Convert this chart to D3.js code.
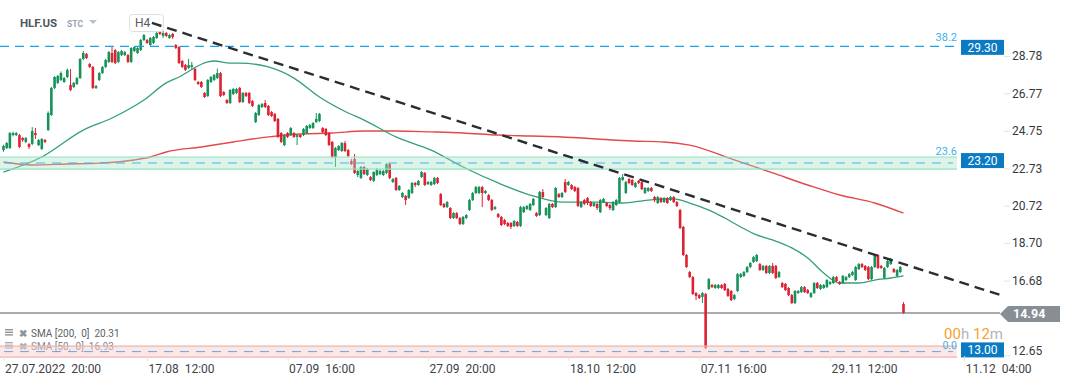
<!DOCTYPE html>
<html><head><meta charset="utf-8">
<script src="https://cdn.jsdelivr.net/npm/d3@7"></script>
<style>
body{margin:0;background:#fff;}
svg{display:block;font-family:Roboto,"Noto Sans",sans-serif;}
</style>
</head><body>
<svg id="c" width="1072" height="382"></svg>
<script>
// ---------- DATA ----------
const opens = [
23.71,23.82,23.82,24.52,24.52,24.52,24.36,24.15,24.04,24.04,
24.63,23.98,23.77,24.25,24.79,25.60,27.06,27.33,27.49,27.38,
27.65,27.22,27.11,27.27,27.59,28.62,28.89,28.35,28.19,27.06,
27.49,27.86,28.19,28.46,28.94,29.10,28.46,28.83,28.83,28.83,
28.46,29.05,28.94,29.10,29.64,29.64,29.37,29.48,29.75,30.07,
29.86,30.02,29.75,29.97,29.37,29.26,28.51,28.29,28.13,28.19,
28.08,27.38,27.38,26.79,26.62,27.38,27.49,27.59,27.86,26.84,
26.41,26.25,26.73,26.79,27.06,26.30,26.79,26.79,26.35,25.22,
25.60,26.03,26.25,26.09,25.76,25.66,25.39,24.63,23.98,24.63,
24.52,24.63,24.42,24.52,24.52,24.63,24.90,24.90,25.22,25.28,
24.90,24.85,24.63,24.15,23.34,23.71,23.66,24.09,23.71,23.12,
23.23,22.37,22.21,22.80,22.37,22.26,22.05,22.37,22.42,22.37,
22.48,22.96,21.99,22.21,21.56,21.18,21.24,21.13,21.40,21.94,
21.83,22.26,22.48,21.88,21.83,21.88,22.21,21.34,20.81,20.64,
20.59,20.05,20.32,20.05,19.73,20.05,20.48,21.02,21.40,21.40,
21.72,21.40,21.29,21.02,20.54,20.27,20.11,19.94,19.78,19.78,
19.62,19.84,19.62,20.37,20.54,20.48,20.75,20.32,20.21,21.45,
20.21,20.05,20.81,20.64,21.34,21.18,21.99,21.83,21.83,21.72,21.67,
20.64,21.02,21.13,20.91,20.70,20.81,20.37,20.91,20.86,20.75,20.48,
20.75,20.91,22.10,21.40,22.15,22.10,21.72,22.05,21.99,21.40,
21.51,21.67,21.18,20.86,21.13,20.91,21.13,21.02,21.18,20.91,20.48,
19.57,18.06,17.14,16.87,16.01,15.90,15.80,15.96,16.23,
16.44,16.28,16.28,16.44,16.50,16.23,16.12,15.69,16.12,
16.87,16.93,17.14,17.41,17.68,17.73,17.57,17.25,17.47,17.09,
17.47,17.47,16.87,16.55,16.50,16.28,15.90,15.47,16.01,16.06,
16.33,16.17,
15.80,16.01,16.55,16.23,16.28,16.33,16.50,
16.55,16.87,16.60,16.55,16.71,16.87,16.98,16.71,17.30,17.57,
17.47,17.41,16.76,17.41,18.06,17.47,16.82,17.41,17.57,17.30,
16.93,17.14,15.42];
const highs = [
24.00,24.15,24.68,24.70,24.68,24.58,24.42,24.42,24.09,24.95,
24.90,24.31,24.36,24.31,25.80,27.11,27.70,27.76,27.95,27.65,
28.10,28.08,27.38,27.65,28.67,29.05,28.94,28.40,28.24,27.22,
27.92,28.24,28.62,29.05,29.26,29.15,29.05,29.10,29.05,28.89,
29.26,29.32,29.26,29.70,29.97,29.70,29.80,29.86,30.07,30.15,
30.13,30.07,29.97,30.02,29.43,29.32,28.56,28.35,28.62,28.46,
28.13,27.43,27.43,26.84,27.54,27.70,27.81,28.10,27.92,26.89,
26.46,27.00,27.06,27.06,27.11,26.84,26.84,26.84,26.41,25.76,
26.19,26.25,26.41,26.14,25.82,25.71,25.44,24.68,24.58,24.68,
24.95,24.68,24.58,24.58,24.90,25.06,25.12,25.22,25.71,25.71,
24.95,24.90,24.68,24.20,23.88,23.98,24.15,24.20,23.77,23.23,
23.50,22.64,22.85,22.85,22.75,22.31,22.58,22.75,22.69,22.64,
23.01,23.01,22.21,22.26,21.83,21.45,21.29,21.61,21.99,21.99,
22.10,22.58,22.53,22.05,22.05,22.26,22.26,21.40,20.86,20.97,
20.64,20.37,20.37,20.11,20.16,20.27,21.08,21.45,21.78,21.78,
21.78,21.56,21.34,21.08,20.70,20.32,20.16,20.00,19.84,19.84,
19.94,19.89,20.70,20.70,20.75,20.86,21.13,20.37,21.51,21.61,
20.64,20.86,20.86,21.72,21.40,21.45,22.15,22.05,21.88,21.78,21.72,
20.97,21.08,21.18,20.97,20.91,20.86,21.08,21.13,20.91,20.81,20.97,
21.08,22.26,22.42,22.05,22.21,22.15,21.99,22.10,22.05,21.72,
21.72,21.72,21.24,21.24,21.18,21.18,21.18,21.24,21.24,20.97,20.54,
19.62,18.11,17.20,16.93,16.06,15.96,16.06,16.01,16.82,
16.50,16.50,16.50,16.50,16.55,16.28,16.17,15.96,17.09,
17.09,17.20,17.47,17.68,18.00,18.11,17.63,17.52,17.52,17.52,
17.63,17.52,17.20,16.60,16.55,16.33,15.96,16.17,16.17,16.39,
16.39,16.23,
16.06,16.60,16.60,16.50,16.50,16.76,16.66,
16.93,16.93,16.66,16.98,16.93,17.09,17.20,17.47,17.63,17.63,
17.52,17.47,17.47,18.11,18.11,17.52,17.41,17.79,17.90,17.36,
17.30,17.47,15.52];
const lows = [
23.62,23.77,23.77,24.45,24.47,23.82,24.15,24.09,23.77,23.98,
24.31,23.93,23.71,24.09,24.74,25.55,27.00,27.27,27.43,27.33,
27.59,26.89,27.06,27.22,27.54,28.56,28.62,28.13,27.00,27.00,
27.43,27.81,28.13,28.40,28.40,28.35,28.40,28.78,28.78,28.40,
28.40,29.00,28.89,29.05,29.58,29.43,29.32,29.43,29.70,29.91,
29.75,29.80,29.70,29.70,29.15,28.35,28.13,27.97,28.08,28.08,
27.43,27.22,27.06,26.52,26.57,27.33,27.43,27.54,26.57,26.62,
26.19,26.19,26.68,26.73,26.25,26.25,26.57,26.19,26.03,25.17,
25.55,25.98,25.98,25.55,25.49,25.22,24.36,24.09,23.93,24.36,
24.47,24.36,23.98,24.36,24.47,24.58,24.85,24.85,25.17,25.22,
24.63,24.47,23.93,23.28,22.80,23.66,23.61,23.61,23.34,22.90,
22.42,22.26,22.15,22.37,22.31,22.05,21.99,22.31,22.37,22.31,
22.42,22.15,21.94,21.51,21.51,21.13,20.75,21.08,21.34,21.72,
21.78,22.21,21.78,21.83,21.78,21.83,21.88,20.70,20.59,20.59,
20.00,20.00,20.00,19.67,19.67,20.00,20.43,20.97,21.34,21.34,
20.64,21.34,20.97,20.43,20.48,20.05,19.62,19.67,19.57,19.46,
19.57,19.57,19.57,20.32,20.48,20.43,20.70,20.11,20.16,21.13,
20.16,20.00,20.59,20.59,21.13,21.13,21.40,21.78,21.56,21.45,20.64,
20.59,20.75,20.75,20.64,20.64,20.48,20.32,20.86,20.64,20.48,20.43,
20.70,20.86,22.05,21.34,21.88,21.78,21.67,21.88,21.56,21.34,
21.45,21.45,20.91,20.81,20.86,20.86,20.81,20.97,20.86,20.64,19.46,
18.00,17.36,16.82,15.90,15.63,15.69,15.47,13.00,16.17,
16.28,16.23,16.23,16.23,16.12,15.80,15.58,15.63,16.06,
16.82,16.87,17.09,17.36,17.63,17.68,17.20,17.20,17.03,17.03,
17.03,16.76,16.82,16.28,16.12,15.85,15.42,15.42,15.96,16.01,
16.01,15.96,
15.74,15.96,16.23,16.17,16.23,16.28,16.44,
16.50,16.60,16.44,16.50,16.66,16.82,16.93,16.66,17.25,17.36,
17.20,16.71,16.71,17.36,17.30,17.30,16.76,17.36,17.52,17.09,
16.87,17.09,14.90];
const closes = [
23.93,24.09,24.63,24.63,24.63,23.88,24.25,24.36,23.88,24.74,
24.52,24.25,24.31,24.15,25.71,27.06,27.65,27.70,27.86,27.59,
28.03,26.95,27.33,27.59,28.62,28.94,28.67,28.19,27.06,27.16,
27.86,28.19,28.56,28.99,28.46,28.40,28.99,29.05,28.99,28.46,
29.21,29.26,29.21,29.64,29.91,29.48,29.75,29.80,30.02,29.97,
30.02,29.86,29.91,29.80,29.21,28.40,28.19,28.03,28.29,28.29,
27.49,27.27,27.11,26.57,27.49,27.65,27.76,27.86,26.62,26.68,
26.25,26.95,27.00,27.00,26.30,26.79,26.62,26.25,26.09,25.71,
26.14,26.19,26.03,25.60,25.55,25.28,24.42,24.15,24.52,24.42,
24.90,24.42,24.52,24.42,24.85,25.01,25.06,25.17,25.39,25.66,
24.68,24.52,23.98,23.34,23.82,23.93,24.09,23.66,23.39,22.96,
22.48,22.58,22.80,22.42,22.69,22.10,22.53,22.64,22.58,22.58,
22.96,22.21,22.15,21.56,21.78,21.40,21.02,21.56,21.94,21.83,
22.05,22.53,21.83,21.99,21.99,22.21,21.94,20.75,20.64,20.91,
20.05,20.32,20.05,19.73,20.11,20.21,21.02,21.40,21.72,21.72,
21.40,21.51,21.02,20.48,20.64,20.11,19.67,19.73,19.62,19.57,
19.89,19.62,20.64,20.64,20.70,20.81,21.08,20.16,21.45,21.18,
20.59,20.81,20.64,21.67,21.18,21.40,21.45,21.99,21.61,21.51,20.70,
20.91,20.81,20.86,20.70,20.86,20.59,21.02,21.08,20.70,20.59,20.91,
21.02,22.21,22.26,21.99,21.94,21.83,21.94,21.94,21.61,21.67,
21.67,21.51,21.02,21.18,20.91,21.13,20.86,21.18,20.91,20.70,19.51,
18.06,17.41,16.87,15.96,15.85,15.74,16.01,13.05,16.76,
16.33,16.44,16.44,16.28,16.17,15.85,15.63,15.90,17.03,
17.03,17.14,17.41,17.63,17.95,18.06,17.25,17.47,17.09,17.47,
17.09,16.82,17.14,16.33,16.17,15.90,15.47,16.12,16.12,16.33,
16.06,16.01,
16.01,16.55,16.28,16.44,16.44,16.71,16.60,
16.87,16.66,16.50,16.93,16.87,17.03,17.14,17.41,17.57,17.41,
17.25,16.76,17.41,18.06,17.36,17.36,17.36,17.73,17.84,17.14,
17.25,17.41,14.94];

const sma50Idx = [0,12,25,34,44,51,55,64,66,71,74,83,91,99,108,113,123,134,144,155,165,175,186,194,202,210,215,221,226,231,236,241,247,252,257,262,268,273,278,282];
const sma50Val = [22.53,23.34,24.79,25.44,26.41,27.33,27.65,28.46,28.51,28.40,28.40,28.19,27.59,26.57,25.71,25.33,24.42,23.71,22.80,21.94,21.29,20.91,20.91,20.86,21.02,21.08,20.86,20.48,20.05,19.57,19.14,18.87,18.44,17.90,17.09,16.55,16.55,16.71,16.82,16.93];
const sma200Idx = [0,9,20,30,41,46,51,62,72,83,93,103,113,123,134,144,155,165,175,186,197,207,215,229,241,252,262,273,282];
const sma200Val = [23.07,22.91,22.96,23.01,23.18,23.34,23.61,23.88,24.15,24.42,24.58,24.63,24.74,24.74,24.69,24.63,24.52,24.47,24.42,24.31,24.20,24.15,23.98,23.18,22.48,21.83,21.29,20.86,20.31];

const trendIdx = [46.5, 312.4];
const trendVal = [30.56, 15.90];

const xTickIdx = [0,45,89,133,177,218,259,301];
const xTickLabels = ["27.07.2022  20:00","17.08  12:00","07.09  16:00","27.09  20:00","18.10  12:00","07.11  16:00","29.11  12:00","11.12  04:00"];
const yTicks = [28.78,26.77,24.75,22.73,20.72,18.70,16.68,12.65];

const fibNames = ["38.2","23.6","0.0"];
const fibBoxVals = [29.30,23.20,13.00];
const greenZone = [23.34,22.69];
const pinkZone = [13.15,12.56];
const lastPrice = 14.94;
const sma200Last = 20.31, sma50Last = 16.93;

// ---------- DRAW ----------
const svg = d3.select('#c');
const x = d3.scaleLinear().domain([0, opens.length - 1]).range([3.5, 903.5]);
const y = d3.scaleLinear().domain([12.65, 28.78]).range([355.4, 56]);
const plotRight = 957;

// legend (behind zone)
const leg = svg.append('g').attr('font-size', 10).attr('fill', '#5a5f66');
[[sma200Last, 200, 336], [sma50Last, 50, 349]].forEach(([v, p, yy], k) => {
  const g = leg.append('g').attr('opacity', k === 0 ? 1 : 0.75);
  for (let j = 0; j < 3; j++) g.append('rect').attr('x', 5).attr('y', yy - 7 + j * 2.6).attr('width', 8).attr('height', 1.4).attr('fill', '#8d949a');
  g.append('text').attr('x', 19).attr('y', yy + 1).attr('font-size', 10).attr('font-weight', 'bold').attr('fill', '#8d949a').text('✖');
  g.append('text').attr('x', 31).attr('y', yy + 1).text(`SMA [${p},  0]  ${v.toFixed(2)}`).style('white-space', 'pre');
});

// last price line
svg.append('line').attr('x1', 0).attr('x2', 1000).attr('y1', y(lastPrice)).attr('y2', y(lastPrice))
  .attr('stroke', '#8a9197').attr('stroke-width', 1.5);

// SMAs
const line = d3.line().curve(d3.curveMonotoneX);
svg.append('path').attr('d', line(sma200Idx.map((d, i) => [x(d), y(sma200Val[i])])))
  .attr('fill', 'none').attr('stroke', '#e2494b').attr('stroke-width', 1.4);
svg.append('path').attr('d', line(sma50Idx.map((d, i) => [x(d), y(sma50Val[i])])))
  .attr('fill', 'none').attr('stroke', '#34a077').attr('stroke-width', 1.3);

// candles
const G = '#17935a', R = '#dc2233';
const cg = svg.append('g');
opens.forEach((o, i) => {
  const c = closes[i], up = c >= o, col = up ? G : R;
  const cx = x(i);
  cg.append('line').attr('x1', cx).attr('x2', cx).attr('y1', y(highs[i])).attr('y2', y(lows[i]))
    .attr('stroke', col).attr('stroke-width', 1);
  const top = y(Math.max(o, c)), bot = y(Math.min(o, c));
  cg.append('rect').attr('x', cx - 1.3).attr('width', 2.6).attr('y', top).attr('height', Math.max(1, bot - top))
    .attr('fill', col);
});

// zones
function zone(b, fill, stroke) {
  const y0 = y(b[0]), y1 = y(b[1]);
  svg.append('rect').attr('x', 0).attr('y', y0).attr('width', plotRight).attr('height', y1 - y0)
    .attr('fill', fill);
  [y0, y1].forEach(yy => svg.append('line').attr('x1', 0).attr('x2', plotRight).attr('y1', yy).attr('y2', yy)
    .attr('stroke', stroke).attr('stroke-width', 1.2));
  const ym = (y0 + y1) / 2;
  svg.append('line').attr('x1', 4).attr('x2', plotRight - 4).attr('y1', ym).attr('y2', ym)
    .attr('stroke', '#58aee0').attr('stroke-width', 1).attr('stroke-dasharray', '9,7');
}
zone(greenZone, 'rgba(160,230,200,0.38)', '#98e0c0');
zone(pinkZone, 'rgba(250,200,200,0.45)', '#f3b0b0');

// 38.2 line
svg.append('line').attr('x1', 0).attr('x2', plotRight).attr('y1', y(fibBoxVals[0])).attr('y2', y(fibBoxVals[0]))
  .attr('stroke', '#1aa3e8').attr('stroke-width', 1.4).attr('stroke-dasharray', '9,6');

// H4 box & header
svg.append('rect').attr('x', 129.5).attr('y', 14.5).attr('width', 34).attr('height', 17).attr('rx', 3)
  .attr('fill', 'rgba(255,255,255,0.85)').attr('stroke', '#dcdfe2');
svg.append('text').attr('x', 135).attr('y', 27).attr('font-size', 12).attr('fill', '#555b61').text('H4');
svg.append('text').attr('x', 20).attr('y', 27).attr('font-size', 11.5).attr('font-weight', 'bold').attr('fill', '#4d5660').text('HLF.US');
svg.append('text').attr('x', 67).attr('y', 27).attr('font-size', 8.5).attr('font-weight', 'bold').attr('fill', '#98a3ad').text('STC');
svg.append('path').attr('d', 'M89,20 L97,20 L93,24 Z').attr('fill', '#b8c0c7');

// trendline
svg.append('line').attr('x1', x(trendIdx[0])).attr('y1', y(trendVal[0])).attr('x2', x(trendIdx[1])).attr('y2', y(trendVal[1]))
  .attr('stroke', '#2a2e33').attr('stroke-width', 2.4).attr('stroke-dasharray', '10,6');

// fib labels
fibNames.forEach((n, i) => {
  const yy = i === 0 ? y(fibBoxVals[0]) - 5 : (i === 1 ? y(greenZone[0]) - 1.5 : y(pinkZone[0]) + 2.5);
  svg.append('text').attr('x', plotRight).attr('y', yy).attr('text-anchor', 'end')
    .attr('font-size', i === 2 ? 10.5 : 11).attr('fill', '#3fb0ea').text(n);
});

// countdown
const cd = svg.append('text').attr('x', 1003).attr('y', 338.5).attr('text-anchor', 'end').attr('font-size', 15);
cd.append('tspan').attr('fill', '#f6a22a').text('00');
cd.append('tspan').attr('fill', '#b2b6ba').text('h ');
cd.append('tspan').attr('fill', '#f6a22a').text('12');
cd.append('tspan').attr('fill', '#b2b6ba').text('m');

// right axis
const ya = svg.append('g').attr('transform', 'translate(1004,0)')
  .call(d3.axisRight(y).tickValues(yTicks).tickSize(6).tickPadding(2).tickFormat(d3.format('.2f')));
ya.select('.domain').remove();
ya.selectAll('line').attr('stroke', '#e3e3e3');
ya.selectAll('text').attr('font-size', 12).attr('fill', '#353a3f').attr('font-family', 'Roboto, sans-serif');
ya.selectAll('.tick').filter(d => d === 12.65).select('text').attr('dy', '-0.05em');

// price boxes
fibBoxVals.forEach(v => {
  const yy = y(v) + 1;
  svg.append('rect').attr('x', 961).attr('y', yy - 7.5).attr('width', 43).attr('height', 15).attr('fill', '#0a7ac2');
  svg.append('text').attr('x', 982.5).attr('y', yy + 4.3).attr('text-anchor', 'middle').attr('font-size', 12)
    .attr('fill', '#fff').text(v.toFixed(2));
});
{
  const yy = y(lastPrice) + 1;
  svg.append('path').attr('d', `M1000,${yy} L1008,${yy - 8} L1060,${yy - 8} L1060,${yy + 8} L1008,${yy + 8} Z`).attr('fill', '#878e94');
  svg.append('text').attr('x', 1013).attr('y', yy + 4.5).attr('font-size', 12.5).attr('font-weight', 'bold')
    .attr('fill', '#fff').text(lastPrice.toFixed(2));
}

// bottom axis
const xa = svg.append('g').attr('transform', 'translate(0,356)')
  .call(d3.axisBottom(x).tickValues(xTickIdx).tickSize(5).tickPadding(3).tickFormat((d, i) => xTickLabels[i]));
xa.select('.domain').remove();
xa.selectAll('line').attr('stroke', '#e0e0e0');
xa.selectAll('text').attr('text-anchor', 'start').attr('font-size', 12).attr('fill', '#3d4247')
  .attr('font-family', 'Roboto, sans-serif').style('white-space', 'pre').attr('x', 1);
</script>
</body></html>
